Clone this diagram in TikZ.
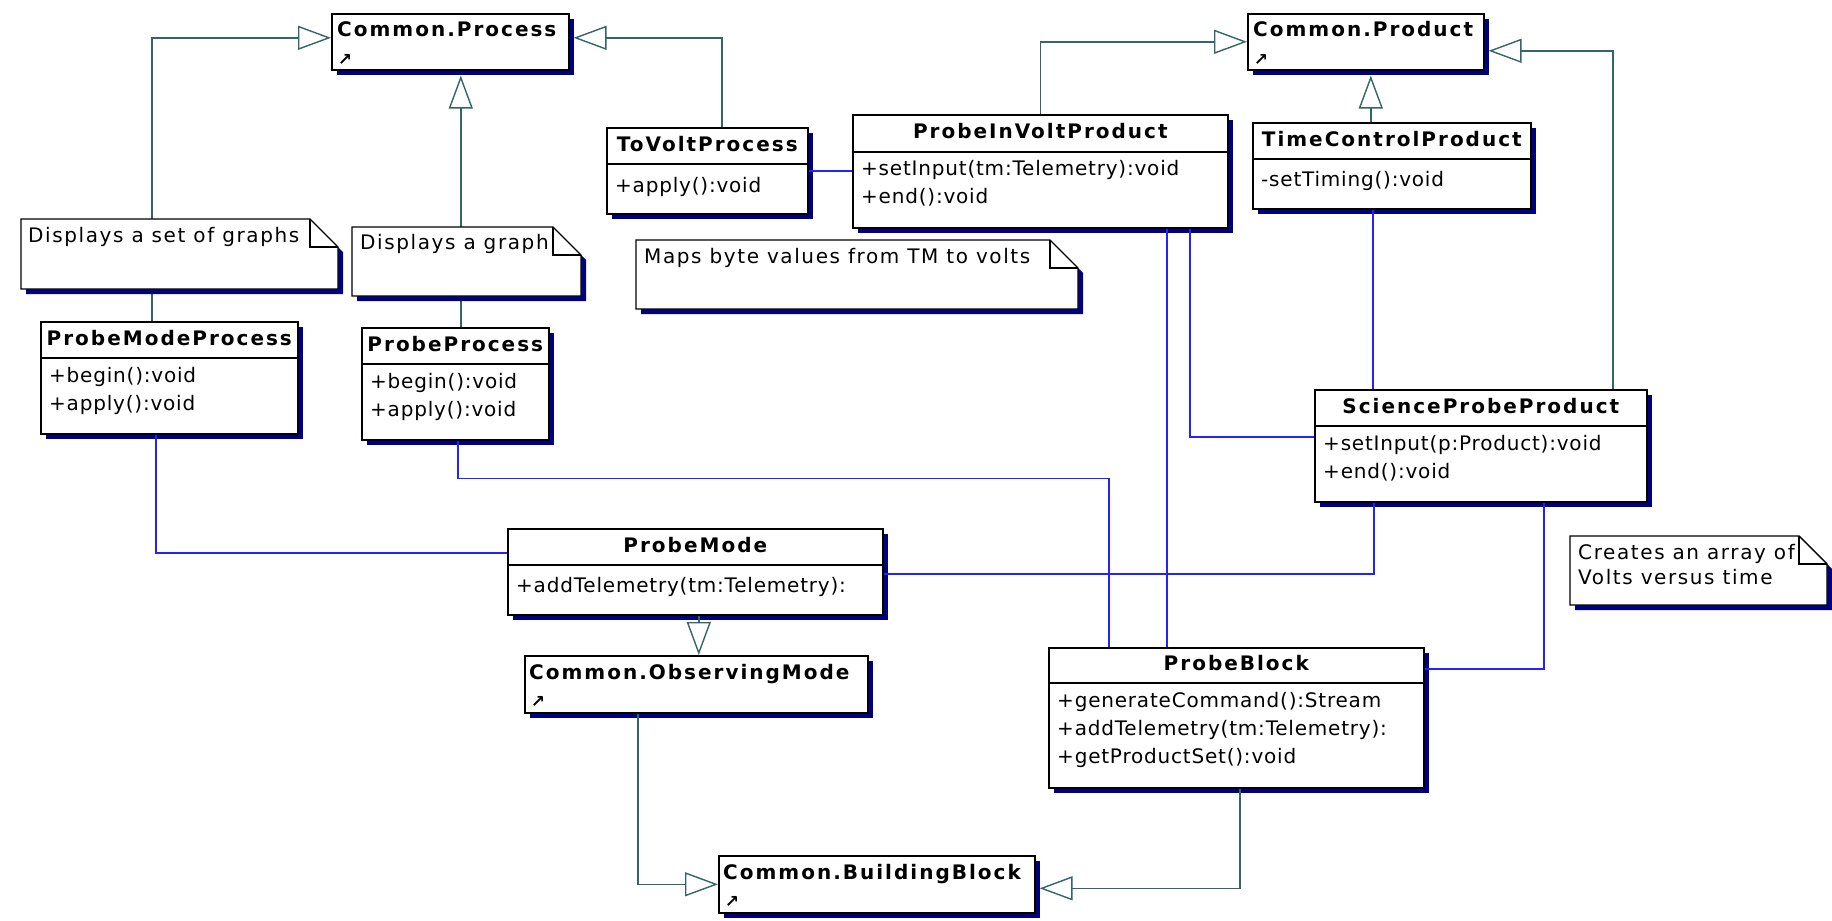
\documentclass[tikz,border=0pt]{standalone}
\usepackage{fontspec}
\setmainfont{DejaVu Sans}[LetterSpace=4, BoldFeatures={LetterSpace=10}]
\usetikzlibrary{arrows.meta, shadows}
\definecolor{umlshadow}{RGB}{0,0,128}
\definecolor{genline}{RGB}{51,102,102}
\definecolor{ascline}{RGB}{35,35,250}

\begin{document}
\begin{tikzpicture}[x=1pt,y=-1pt,
  font=\fontsize{20}{28}\selectfont,
  cls/.style={draw=black, line width=1.6pt, fill=white, anchor=north west, inner sep=0pt,
    drop shadow={shadow xshift=5pt, shadow yshift=-5pt, fill=umlshadow, opacity=1}},
  ttl/.style={font=\fontsize{20}{28}\selectfont\bfseries, inner sep=0pt},
  pkg/.style={font=\fontsize{20}{28}\selectfont\bfseries, inner sep=0pt, anchor=base west},
  lnk/.style={font=\fontsize{17}{17}\selectfont\bfseries, inner sep=0pt},
  mth/.style={anchor=north west, inner sep=0pt, align=left, execute at begin node=\strut},
  sepline/.style={line width=1.2pt},
  gen/.style={draw=genline, line width=1.4pt, -{Triangle[open, length=33pt, width=24pt]}},
  asc/.style={draw=ascline, line width=1.4pt},
  notebox/.style={draw=black, line width=1.4pt, fill=white,
    drop shadow={shadow xshift=5pt, shadow yshift=-5pt, fill=umlshadow, opacity=1}},
  foldline/.style={draw=black, line width=1.2pt},
  ntxt/.style={anchor=north west, inner sep=0pt, align=left,
    font=\fontsize{20}{25}\selectfont\addfontfeature{LetterSpace=8}, execute at begin node=\strut}]

\fill[white] (0,0) rectangle (1832,921);
\useasboundingbox (0,0) rectangle (1832,921);

% parent classes
\node[cls, minimum width=237pt, minimum height=56pt] (cp) at (331,13) {};
\node[pkg] (cp-t) at ([shift={(6,23)}]cp.north west) {Common.Process};
\node[lnk] (cp-l) at ([shift={(14,47)}]cp.north west) {↗};

\node[cls, minimum width=236pt, minimum height=56pt] (cprod) at (1247,13) {};
\node[pkg] (cprod-t) at ([shift={(6,23)}]cprod.north west) {Common.Product};
\node[lnk] (cprod-l) at ([shift={(14,47)}]cprod.north west) {↗};

\node[cls, minimum width=343pt, minimum height=57pt] (com) at (524,655) {};
\node[pkg] (com-t) at ([shift={(5,24)}]com.north west) {Common.ObservingMode};
\node[lnk] (com-l) at ([shift={(14,47)}]com.north west) {↗};

\node[cls, minimum width=316pt, minimum height=57pt] (cbb) at (718,855) {};
\node[pkg] (cbb-t) at ([shift={(5,24)}]cbb.north west) {Common.BuildingBlock};
\node[lnk] (cbb-l) at ([shift={(14,47)}]cbb.north west) {↗};

% ProbeModeProcess
\node[cls, minimum width=257pt, minimum height=112pt] (pmp) at (40,321) {};
\draw[sepline] ([yshift=-37pt]pmp.north west) -- ([yshift=-37pt]pmp.north east);
\node[ttl] (pmp-t) at ([yshift=-17pt]pmp.north) {ProbeModeProcess};
\node[mth] (pmp-m) at ([shift={(9,46)}]pmp.north west) {+begin():void\\+apply():void};

% ProbeProcess
\node[cls, minimum width=187pt, minimum height=112pt] (pp) at (361,327) {};
\draw[sepline] ([yshift=-37pt]pp.north west) -- ([yshift=-37pt]pp.north east);
\node[ttl] (pp-t) at ([yshift=-17pt]pp.north) {ProbeProcess};
\node[mth] (pp-m) at ([shift={(9,46)}]pp.north west) {+begin():void\\+apply():void};

% ToVoltProcess
\node[cls, minimum width=201pt, minimum height=86pt] (tvp) at (606,127) {};
\draw[sepline] ([yshift=-37pt]tvp.north west) -- ([yshift=-37pt]tvp.north east);
\node[ttl] (tvp-t) at ([yshift=-17pt]tvp.north) {ToVoltProcess};
\node[mth] (tvp-m) at ([shift={(9,46)}]tvp.north west) {+apply():void};

% ProbeInVoltProduct
\node[cls, minimum width=375pt, minimum height=113pt] (pivp) at (852,114) {};
\draw[sepline] ([yshift=-38pt]pivp.north west) -- ([yshift=-38pt]pivp.north east);
\node[ttl] (pivp-t) at ([yshift=-17pt]pivp.north) {ProbeInVoltProduct};
\node[mth] (pivp-m) at ([shift={(9,46)}]pivp.north west) {+setInput(tm:Telemetry):void\\+end():void};

% TimeControlProduct
\node[cls, minimum width=278pt, minimum height=86pt] (tcp) at (1252,122) {};
\draw[sepline] ([yshift=-37pt]tcp.north west) -- ([yshift=-37pt]tcp.north east);
\node[ttl] (tcp-t) at ([yshift=-17pt]tcp.north) {TimeControlProduct};
\node[mth] (tcp-m) at ([shift={(9,45)}]tcp.north west) {-setTiming():void};

% ScienceProbeProduct
\node[cls, minimum width=332pt, minimum height=112pt] (spp) at (1314,389) {};
\draw[sepline] ([yshift=-37pt]spp.north west) -- ([yshift=-37pt]spp.north east);
\node[ttl] (spp-t) at ([yshift=-17pt]spp.north) {ScienceProbeProduct};
\node[mth] (spp-m) at ([shift={(9,46)}]spp.north west) {+setInput(p:Product):void\\+end():void};

% ProbeMode
\node[cls, minimum width=375pt, minimum height=86pt] (pm) at (507,528) {};
\draw[sepline] ([yshift=-37pt]pm.north west) -- ([yshift=-37pt]pm.north east);
\node[ttl] (pm-t) at ([yshift=-17pt]pm.north) {ProbeMode};
\node[mth] (pm-m) at ([shift={(9,45)}]pm.north west) {+addTelemetry(tm:Telemetry):};

% ProbeBlock
\node[cls, minimum width=375pt, minimum height=140pt] (pb) at (1048,647) {};
\draw[sepline] ([yshift=-36pt]pb.north west) -- ([yshift=-36pt]pb.north east);
\node[ttl] (pb-t) at ([yshift=-16pt]pb.north) {ProbeBlock};
\node[mth] (pb-m) at ([shift={(9,45)}]pb.north west) {+generateCommand():Stream\\+addTelemetry(tm:Telemetry):\\+getProductSet():void};

% generalizations
\draw[gen] ([xshift=-17.5pt]pmp.north) |- ([yshift=4pt]cp.west);
\draw[gen] ([xshift=5.5pt]pp.north) -- ([xshift=5.5pt,yshift=-5pt]pp.north |- cp.south);
\draw[gen] ([xshift=14.5pt]tvp.north) |- ([xshift=4pt,yshift=4pt]cp.east);
\draw[gen] (pivp.north) |- (cprod.west);
\draw[gen] ([xshift=-21pt]tcp.north) -- ([xshift=-21pt,yshift=-5pt]tcp.north |- cprod.south);
\draw[gen] ([xshift=132pt]spp.north) |- ([xshift=4pt,yshift=-9pt]cprod.east);
\draw[gen] ([xshift=3.5pt]pm.south) -- ([xshift=3.5pt]pm.south |- com.north);
\draw[gen] ([xshift=-58.5pt]com.south) |- (cbb.west);
\draw[gen] ([xshift=3.5pt]pb.south) |- ([xshift=4pt,yshift=-4pt]cbb.east);

% associations
\draw[asc] (tvp.east) -- (tvp.east -| pivp.west);
\draw[asc] ([xshift=-13.5pt]pmp.south) |- ([yshift=19pt]pm.west);
\draw[asc] ([yshift=-2pt]pm.east) -| ([xshift=-107pt]spp.south);
\draw[asc] ([xshift=2.5pt]pp.south) -- ++(0,38) -| ([xshift=-127.5pt]pb.north);
\draw[asc] ([xshift=126.5pt]pivp.south) -- ([xshift=126.5pt]pivp.south |- pb.north);
\draw[asc] ([xshift=149.5pt]pivp.south) |- ([yshift=9pt]spp.west);
\draw[asc] ([xshift=-19pt]tcp.south) -- ([xshift=-19pt]tcp.south |- spp.north);
\draw[asc] ([xshift=63pt]spp.south) |- ([yshift=49pt]pb.east);

% notes
\draw[notebox] (21,219) -- (310,219) -- (338,247) -- (338,289) -- (21,289) -- cycle;
\draw[foldline] (310,219) |- (338,247);
\node[ntxt] (n1) at (28,224.5) {Displays a set of graphs};

\draw[notebox] (352,227) -- (553,227) -- (581,255) -- (581,296) -- (352,296) -- cycle;
\draw[foldline] (553,227) |- (581,255);
\node[ntxt] (n2) at (360,231.5) {Displays a graph};

\draw[notebox] (636,240) -- (1050,240) -- (1078,268) -- (1078,309) -- (636,309) -- cycle;
\draw[foldline] (1050,240) |- (1078,268);
\node[ntxt] (n3) at (644,245.5) {Maps byte values from TM to volts};

\draw[notebox] (1570,536) -- (1799,536) -- (1827,564) -- (1827,605) -- (1570,605) -- cycle;
\draw[foldline] (1799,536) |- (1827,564);
\node[ntxt] (n4) at (1578,544) {Creates an array of\\Volts versus time};
\end{tikzpicture}
\end{document}
